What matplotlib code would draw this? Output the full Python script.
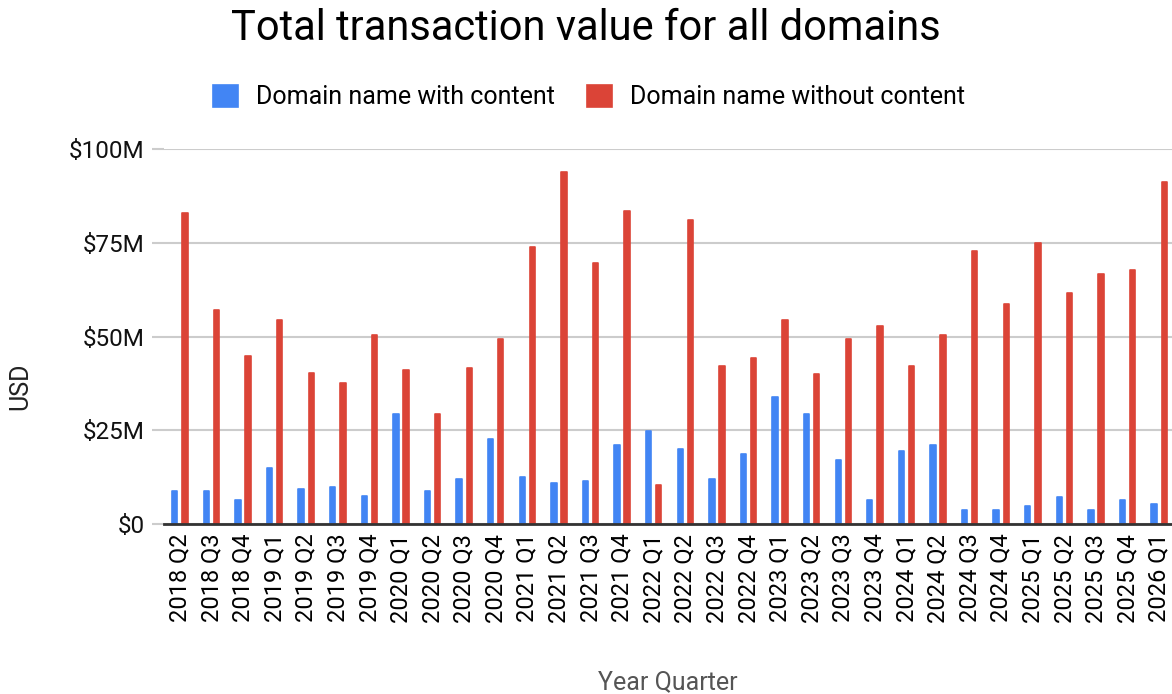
import matplotlib.pyplot as plt
import numpy as np
from matplotlib.ticker import FuncFormatter

plt.rcParams['font.family'] = ['Roboto', 'DejaVu Sans']

quarters = ["2018 Q2", "2018 Q3", "2018 Q4",
            "2019 Q1", "2019 Q2", "2019 Q3", "2019 Q4",
            "2020 Q1", "2020 Q2", "2020 Q3", "2020 Q4",
            "2021 Q1", "2021 Q2", "2021 Q3", "2021 Q4",
            "2022 Q1", "2022 Q2", "2022 Q3", "2022 Q4",
            "2023 Q1", "2023 Q2", "2023 Q3", "2023 Q4",
            "2024 Q1", "2024 Q2", "2024 Q3", "2024 Q4",
            "2025 Q1", "2025 Q2", "2025 Q3", "2025 Q4",
            "2026 Q1"]

# USD millions
with_content = [8.8, 8.8, 6.5, 14.9, 9.3, 9.8, 7.6, 29.4, 8.8, 12.1, 22.7,
                12.6, 11.0, 11.5, 21.1, 24.9, 19.9, 12.1, 18.8, 33.8, 29.4,
                17.1, 6.5, 19.4, 21.1, 3.8, 3.8, 4.8, 7.1, 3.8, 6.5, 5.4]
without_content = [82.9, 57.1, 44.9, 54.4, 40.4, 37.7, 50.5, 41.0, 29.3, 41.5,
                   49.4, 73.9, 93.9, 69.5, 83.4, 10.4, 81.2, 42.1, 44.4, 54.4,
                   39.9, 49.4, 52.7, 42.1, 50.5, 72.8, 58.8, 75.0, 61.6, 66.7,
                   67.8, 91.2]

blue = '#4285F4'
red = '#DB4437'

fig = plt.figure(figsize=(11.72, 6.94), dpi=100)
ax = fig.add_axes([164 / 1172, 170 / 694, 1011 / 1172, 375 / 694])

x = np.arange(len(quarters))
w = 0.17
ax.bar(x - 0.16, with_content, w, color=blue, edgecolor=blue, linewidth=1.2,
       joinstyle='round', label='Domain name with content', zorder=3)
ax.bar(x + 0.16, without_content, w, color=red, edgecolor=red, linewidth=1.2,
       joinstyle='round', label='Domain name without content', zorder=3)

ax.set_xlim(-0.5, len(quarters) - 0.5)
ax.set_ylim(0, 100)
ax.set_yticks([0, 25, 50, 75, 100])
ax.yaxis.set_major_formatter(FuncFormatter(lambda v, p: '$0' if v == 0 else f'${v:.0f}M'))
ax.grid(axis='y', color='#cccccc', linewidth=1.5, zorder=0)
ax.set_xticks(x)
ax.set_xticklabels(quarters, rotation=90, fontsize=17)
ax.tick_params(axis='x', length=0, pad=7)
ax.tick_params(axis='y', length=9, color='#cccccc', width=1.5, labelsize=17.5, pad=5,
               labelcolor='#111111')
for s in ['top', 'right', 'left']:
    ax.spines[s].set_visible(False)
ax.spines['bottom'].set_color('#333333')
ax.spines['bottom'].set_linewidth(2)
ax.spines['bottom'].set_zorder(4)

fig.text(20 / 1172, 1 - 386 / 694, 'USD', fontsize=18, rotation=90,
         ha='center', va='center', color='#222222')
fig.text(668 / 1172, 1 - 682 / 694, 'Year Quarter', fontsize=18,
         ha='center', va='center', color='#555555')

fig.text(0.5, 1 - 28 / 694, 'Total transaction value for all domains', fontsize=30,
         ha='center', va='center', color='#000000')
fig.legend(loc='center', bbox_to_anchor=(589 / 1172, 1 - 97 / 694), ncol=2, frameon=False,
           fontsize=18, handlelength=1.0, handleheight=1.0, columnspacing=1.3,
           handletextpad=0.7)

fig.savefig('out.png', dpi=100)
